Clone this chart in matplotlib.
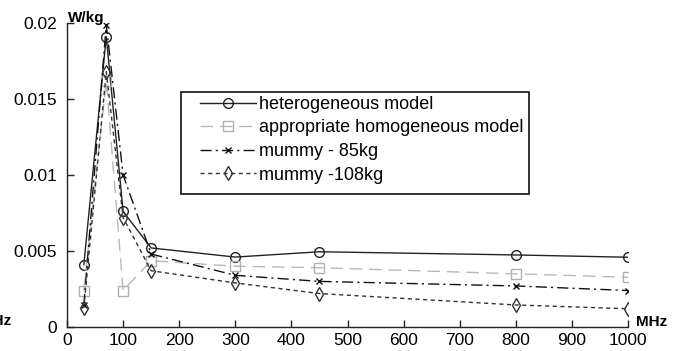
import matplotlib
matplotlib.use("Agg")
import matplotlib.pyplot as plt
from matplotlib.patches import Rectangle

freq = [30, 70, 100, 150, 300, 450, 800, 1000]
hetero = [0.0041, 0.0191, 0.0076, 0.0052, 0.0046, 0.00495, 0.00474, 0.00459]
homog = [0.0024, 0.0162, 0.0024, 0.00436, 0.0040, 0.0039, 0.0035, 0.00327]
mummy85 = [0.00145, 0.0199, 0.0100, 0.0048, 0.0034, 0.0030, 0.0027, 0.0024]
mummy108 = [0.00125, 0.0168, 0.0072, 0.0037, 0.0029, 0.0022, 0.00145, 0.0012]
labels = ["heterogeneous model", "appropriate homogeneous model",
          "mummy - 85kg", "mummy -108kg"]
xticks = [0, 100, 200, 300, 400, 500, 600, 700, 800, 900, 1000]
yticks = [0, 0.005, 0.01, 0.015, 0.02]
ytick_labels = ["0", "0.005", "0.01", "0.015", "0.02"]

plt.rcParams['font.family'] = ['Liberation Sans', 'DejaVu Sans']
FS = 12.5
LFS = 13

W, H = 680, 351
fig = plt.figure(figsize=(6.8, 3.51), dpi=100)
ax = fig.add_axes([67/W, 24/H, (628-67)/W, (327-23)/H])

ms = 7
ax.plot(freq, hetero, color='#222222', lw=1.0, ls='-', marker='o', ms=ms,
        mfc='none', mec='#222222', label=labels[0])
ax.plot(freq, homog, color='#b8b8b8', lw=1.0, ls=(0, (9, 5)), marker='s', ms=ms,
        mfc='none', mec='#b0b0b0', label=labels[1])
ax.plot(freq, mummy85, color='#111111', lw=1.0, ls=(0, (8, 3, 1.5, 3)), marker='x', ms=5,
        mfc='none', mec='#111111', label=labels[2])
ax.plot(freq, mummy108, color='#333333', lw=1.0, ls=(0, (3, 2.5)), marker='d', ms=ms,
        mfc='none', mec='#333333', label=labels[3])

ax.set_xlim(0, 1000)
ax.set_ylim(0, 0.02)
ax.set_xticks(xticks)
ax.set_xticklabels([str(t) for t in xticks], fontsize=FS)
ax.set_yticks(yticks)
ax.set_yticklabels(ytick_labels, fontsize=FS)
ax.tick_params(direction='in', length=5, width=1, color='#222222', pad=4)
ax.tick_params(axis='y', pad=7)
for s in ['top', 'right']:
    ax.spines[s].set_visible(False)
for s in ['left', 'bottom']:
    ax.spines[s].set_color('#222222')
    ax.spines[s].set_linewidth(1.0)

fig.text(68/W, 1 - 18/H, "W/kg", fontsize=11, fontweight='bold', va='center', ha='left')
fig.text(636/W, 1 - 322/H, "MHz", fontsize=11, fontweight='bold', va='center', ha='left')
fig.text(11/W, 1 - 321/H, "MHz", fontsize=11, fontweight='bold', va='center', ha='right')

leg = fig.legend(loc='upper left', bbox_to_anchor=(200/W, 1 - 96/H),
                 bbox_transform=fig.transFigure, borderaxespad=0, borderpad=0,
                 fontsize=LFS, frameon=False, handlelength=3.1, handletextpad=0.17,
                 labelspacing=0.36)

fig.patches.append(Rectangle((181/W, 1 - 194/H), (529-181)/W, (194-92)/H,
                             transform=fig.transFigure, fill=True, facecolor='white',
                             edgecolor='#111111', lw=1.2, zorder=2))
leg.set_zorder(5)

fig.savefig("out.png", dpi=100)
